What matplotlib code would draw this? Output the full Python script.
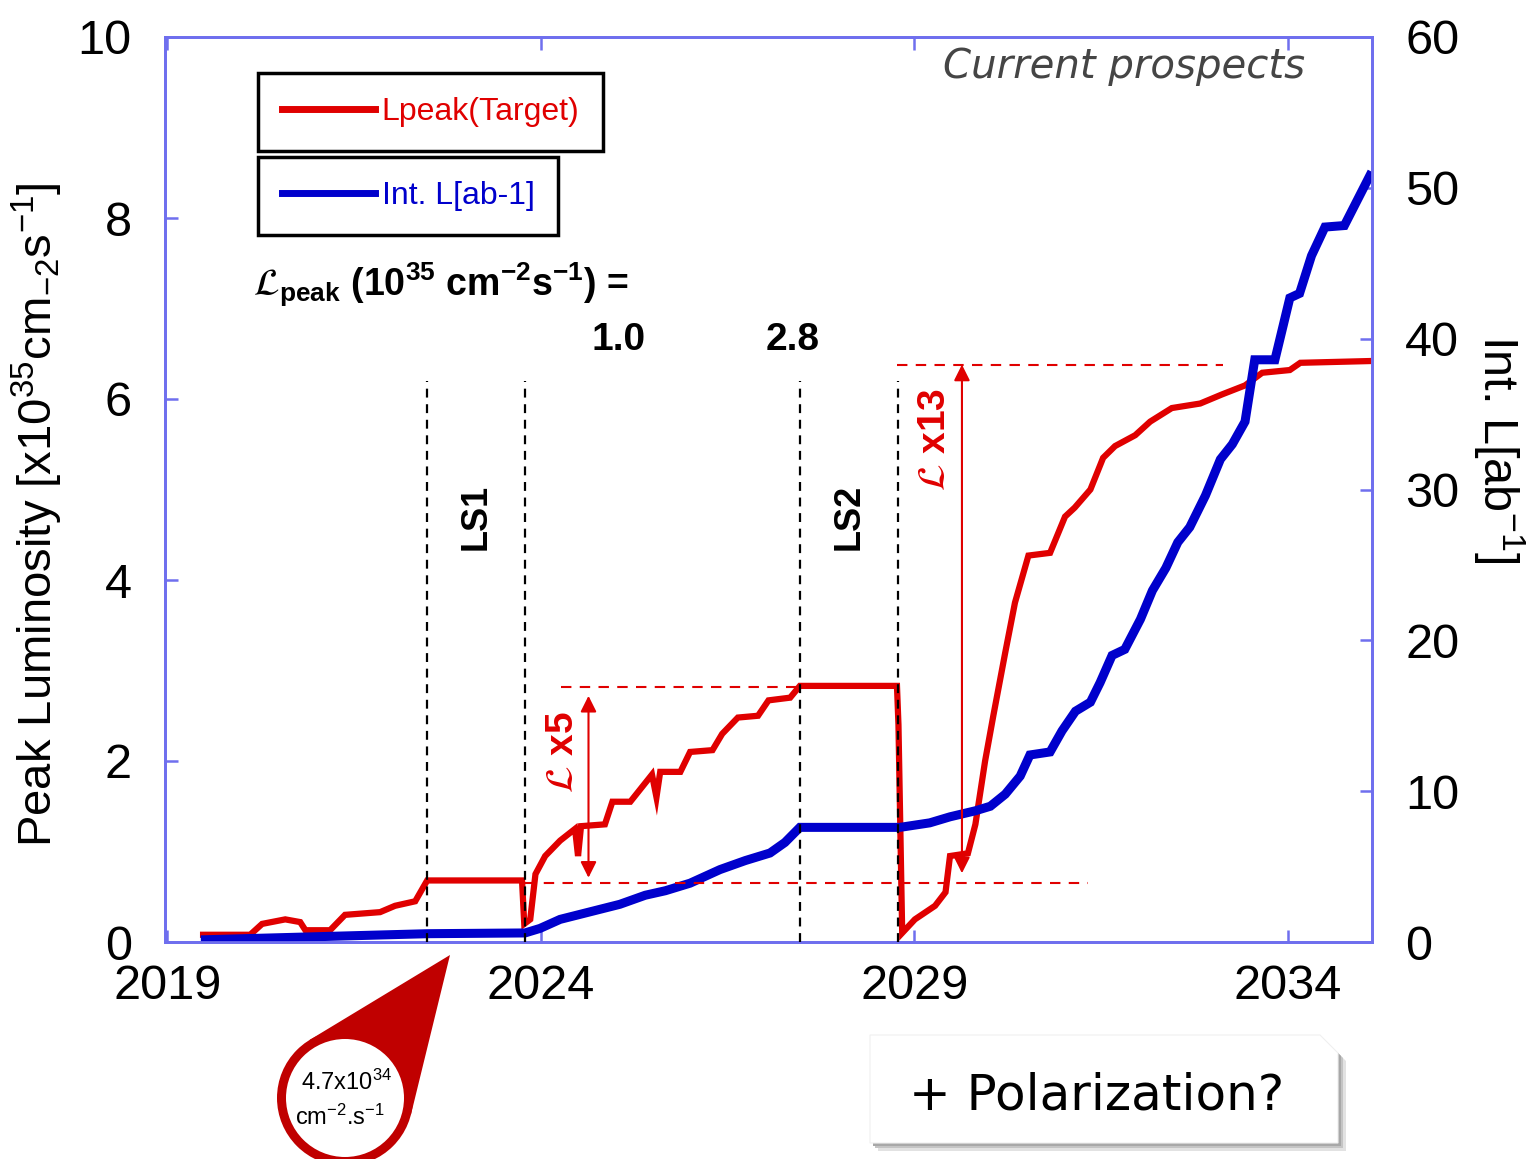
import numpy as np
import matplotlib
matplotlib.use("Agg")
import matplotlib.pyplot as plt
from matplotlib.patches import Circle, Polygon
from matplotlib.lines import Line2D

plt.rcParams['font.family'] = ['Liberation Sans', 'DejaVu Sans']
plt.rcParams['mathtext.fontset'] = 'stix'
plt.rcParams['mathtext.default'] = 'regular'

# Peak luminosity target (left axis, 1e35 cm-2 s-1)
years_peak = [2019.48, 2020.11, 2020.27, 2020.58, 2020.78, 2020.85, 2021.18, 2021.38, 2021.85,
              2022.05, 2022.32, 2022.48, 2023.75, 2023.78, 2023.86, 2023.93, 2024.06, 2024.26,
              2024.46, 2024.50, 2024.54, 2024.86, 2024.96, 2025.20, 2025.49, 2025.55, 2025.60,
              2025.87, 2026.00, 2026.30, 2026.43, 2026.64, 2026.91, 2027.05, 2027.34, 2027.47,
              2028.77, 2028.79, 2028.84, 2029.01, 2029.28, 2029.42, 2029.48, 2029.72, 2029.82,
              2029.95, 2030.06, 2030.22, 2030.35, 2030.53, 2030.82, 2031.02, 2031.15, 2031.36,
              2031.53, 2031.69, 2031.96, 2032.16, 2032.45, 2032.83, 2033.12, 2033.43, 2033.66,
              2034.03, 2034.17, 2035.13]
lpeak = [0.08, 0.08, 0.20, 0.25, 0.22, 0.13, 0.13, 0.30, 0.33,
         0.40, 0.45, 0.68, 0.68, 0.20, 0.25, 0.75, 0.95, 1.12,
         1.25, 0.95, 1.28, 1.30, 1.55, 1.55, 1.85, 1.60, 1.88,
         1.88, 2.10, 2.12, 2.30, 2.48, 2.50, 2.67, 2.70, 2.83,
         2.83, 2.40, 0.10, 0.25, 0.40, 0.55, 0.95, 0.98, 1.30,
         2.00, 2.50, 3.20, 3.75, 4.27, 4.30, 4.70, 4.80, 5.00,
         5.35, 5.48, 5.60, 5.75, 5.90, 5.95, 6.05, 6.15, 6.29,
         6.32, 6.40, 6.42]

# Integrated luminosity (right axis, ab-1)
years_int = [2019.51, 2022.48, 2023.79, 2023.99, 2024.26, 2024.66, 2025.06, 2025.40, 2025.67,
             2026.00, 2026.40, 2026.74, 2027.07, 2027.27, 2027.47, 2028.81, 2029.21, 2029.48,
             2029.82, 2030.02, 2030.22, 2030.42, 2030.55, 2030.82, 2030.98, 2031.16, 2031.36,
             2031.49, 2031.65, 2031.82, 2032.03, 2032.19, 2032.37, 2032.53, 2032.69, 2032.90,
             2033.10, 2033.26, 2033.43, 2033.56, 2033.83, 2034.03, 2034.16, 2034.32, 2034.50,
             2034.76, 2035.10]
int_lumi = [0.15, 0.55, 0.60, 0.90, 1.50, 2.00, 2.50, 3.10, 3.40,
            3.90, 4.80, 5.40, 5.90, 6.60, 7.60, 7.60, 7.90, 8.30,
            8.70, 9.00, 9.80, 11.0, 12.4, 12.6, 14.0, 15.3, 15.9,
            17.2, 19.0, 19.4, 21.4, 23.3, 24.8, 26.5, 27.5, 29.6,
            32.0, 33.0, 34.5, 38.6, 38.6, 42.7, 43.0, 45.5, 47.4,
            47.5, 50.8]

shutdowns = [2022.48, 2023.79, 2027.47, 2028.79]
shutdown_names = ["LS1", "LS2"]
step_values = ["1.0", "2.8"]

red = "#e00000"
blue = "#0000cc"
axis_blue = "#6f6fee"

fig = plt.figure(figsize=(15.29, 11.59), dpi=100)
ax = fig.add_axes([165 / 1529, 1 - 942 / 1159, 1207 / 1529, 905 / 1159])
ax2 = ax.twinx()

ax.plot(years_peak, lpeak, color=red, lw=4.5, solid_joinstyle="miter")
ax2.plot(years_int, int_lumi, color=blue, lw=6.5, solid_joinstyle="miter", zorder=2)

ax.set_xlim(2018.97, 2035.13)
ax.set_ylim(0, 10)
ax2.set_ylim(0, 60)
ax.set_xticks([2019, 2024, 2029, 2034])
ax.set_yticks([0, 2, 4, 6, 8, 10])
ax2.set_yticks([0, 10, 20, 30, 40, 50, 60])

for a in (ax, ax2):
    for sp in a.spines.values():
        sp.set_color(axis_blue)
        sp.set_linewidth(2)
ax.tick_params(axis="x", direction="in", top=True, length=9, width=1.8, color=axis_blue,
               labelsize=35, pad=16)
ax.tick_params(axis="y", direction="in", length=9, width=1.8, color=axis_blue,
               labelsize=35, pad=24)
ax2.tick_params(axis="y", direction="in", length=9, width=1.8, color=axis_blue,
                labelsize=35, pad=24)

ax.set_ylabel(r"Peak Luminosity [x10$^{35}$cm$_{-2}$s$^{-1}$]", fontsize=34)
ax.yaxis.set_label_coords(-0.083, 0.472)
ax2.set_ylabel(r"Int. L[ab$^{-1}$]", fontsize=35, rotation=270)
ax2.yaxis.set_label_coords(1.128, 0.545)

# shutdown periods
tr = ax.transData
for xs in shutdowns:
    ax2.plot([xs, xs], [0, 6.2], transform=tr, color="black", lw=1.6, ls=(0, (4, 3)), zorder=3)
for (x0, x1), name in zip([(shutdowns[0], shutdowns[1]), (shutdowns[2], shutdowns[3])], shutdown_names):
    ax2.text((x0 + x1) / 2, 4.7, name, transform=tr, rotation=90, fontsize=26,
             fontweight="bold", ha="center", va="center")
for xv, s in zip([2025.04, 2027.37], step_values):
    ax2.text(xv, 6.65, s, transform=tr, fontsize=28, fontweight="bold", ha="center", va="center")

# luminosity gain markers
dash = (0, (5, 4))
ax2.plot([2024.27, 2027.47], [2.82, 2.82], transform=tr, color=red, lw=1.5, ls=dash, zorder=3)
ax2.plot([2023.79, 2031.33], [0.65, 0.65], transform=tr, color=red, lw=1.5, ls=dash, zorder=3)
ax2.plot([2028.77, 2033.13], [6.38, 6.38], transform=tr, color=red, lw=1.5, ls=dash, zorder=3)
for xa, y0, y1 in [(2024.64, 0.71, 2.72), (2029.64, 0.76, 6.38)]:
    ax2.annotate("", xy=(xa, y1), xytext=(xa, y0), xycoords=tr, textcoords=tr,
                 arrowprops=dict(arrowstyle="<|-|>", color=red, lw=1.5, mutation_scale=24,
                                 shrinkA=0, shrinkB=0), zorder=4)
ax2.text(2024.30, 2.1, r"$\mathcal{L}$ x5", transform=tr, rotation=90, color=red, fontsize=28,
         fontweight="bold", ha="center", va="center")
ax2.text(2029.28, 5.55, r"$\mathcal{L}$ x13", transform=tr, rotation=90, color=red, fontsize=28,
         fontweight="bold", ha="center", va="center")

ax2.text(2020.15, 7.26, r"$\mathcal{L}_{peak}$ (10$^{35}$ cm$^{-2}$s$^{-1}$) =", transform=tr,
         fontsize=27, fontweight="bold", ha="left", va="center")

# two stacked legend boxes
h1 = Line2D([], [], color=red, lw=5)
h2 = Line2D([], [], color=blue, lw=5)
leg_kw = dict(fontsize=23, handlelength=2.9, handletextpad=0.22, borderpad=0.75,
              fancybox=False, framealpha=1, edgecolor="black", borderaxespad=0,
              loc="upper left", bbox_transform=fig.transFigure)
leg1 = ax2.legend([h1], ["Lpeak(Target)"], bbox_to_anchor=(258 / 1529, 1 - 73 / 1159),
                  labelcolor=red, **leg_kw)
leg1.get_frame().set_linewidth(2.5)
ax2.add_artist(leg1)
leg2 = ax2.legend([h2], ["Int. L[ab-1]"], bbox_to_anchor=(258 / 1529, 1 - 157 / 1159),
                  labelcolor=blue, **leg_kw)
leg2.get_frame().set_linewidth(2.5)

fig.text(1124 / 1529, 1 - 67 / 1159, "Current prospects", fontsize=29, style="italic",
         color="#454545", family="DejaVu Sans", ha="center", va="center")

# decorations below the axes, in pixel coordinates
ov = fig.add_axes([0, 0, 1, 1])
ov.set_xlim(0, 1529)
ov.set_ylim(1159, 0)
ov.axis("off")

C = np.array([345.0, 1098.0])
T = np.array([450.0, 955.0])
R = 68.0
d = np.hypot(*(T - C))
th = np.arctan2(T[1] - C[1], T[0] - C[0])
ph = np.arccos(R / d)
P1 = C + R * np.array([np.cos(th + ph), np.sin(th + ph)])
P2 = C + R * np.array([np.cos(th - ph), np.sin(th - ph)])
ov.add_patch(Polygon([T, P1, C, P2], closed=True, fc="#c00000", ec="none"))
ov.add_patch(Circle(C, R, fc="#c00000", ec="none"))
ov.add_patch(Circle(C, 59, fc="white", ec="none"))
ov.text(347, 1082, r"4.7x10$^{34}$", fontsize=17, ha="center", va="center")
ov.text(340, 1117, r"cm$^{-2}$.s$^{-1}$", fontsize=17, ha="center", va="center")

box = [(870, 1035), (1320, 1035), (1338, 1053), (1338, 1143), (870, 1143)]
for off, col in [(8, "#e2e2e2"), (5, "#c4c4c4"), (3, "#a8a8a8")]:
    ov.add_patch(Polygon([(x + off, y + off) for x, y in box], closed=True, fc=col, ec="none"))
ov.add_patch(Polygon(box, closed=True, fc="white", ec="#f0f0f0", lw=0.8))
ov.text(1097, 1095, "+ Polarization?", fontsize=36, family="DejaVu Sans", ha="center", va="center")

fig.savefig("out.png", dpi=100)
